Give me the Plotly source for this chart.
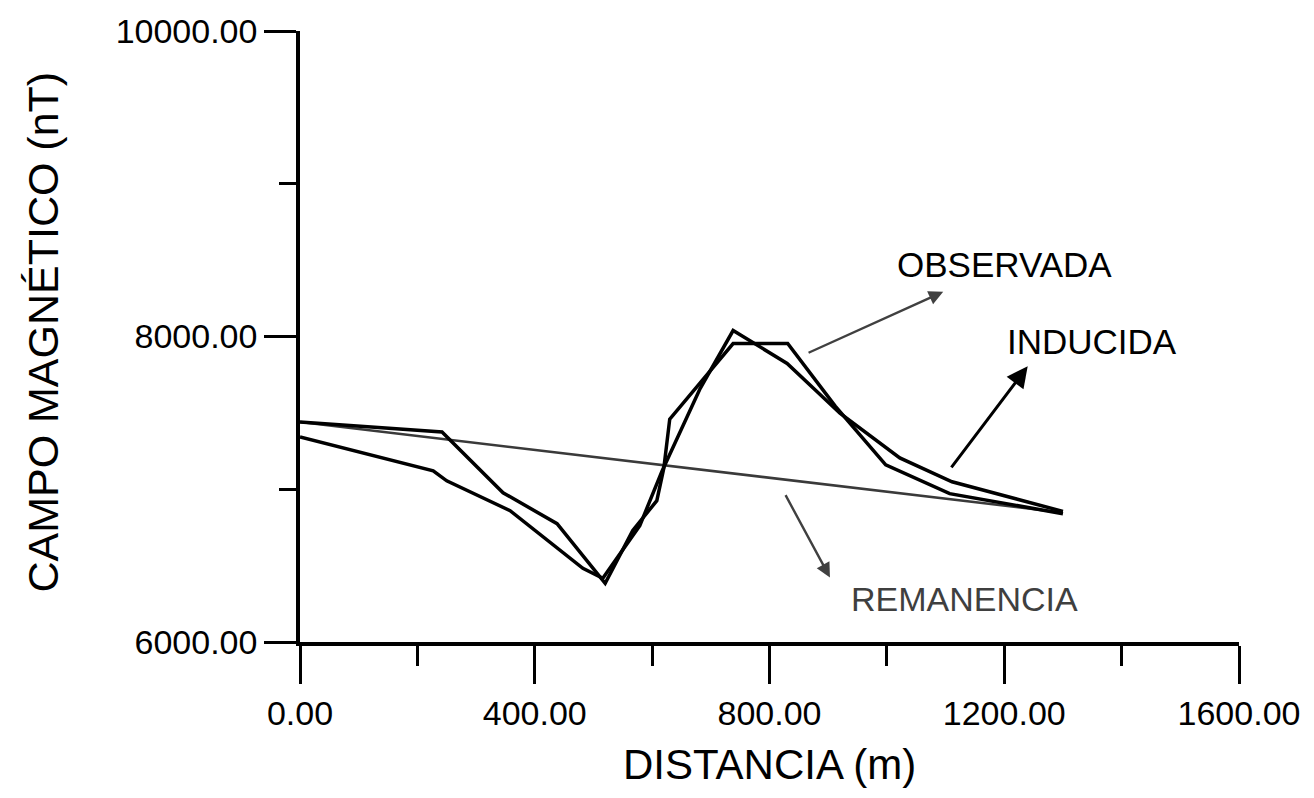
import plotly.graph_objects as go

# Magnetic profile: observed field, induced-model field and remanent trend
obs_dist = [0, 242, 346, 438, 520, 567, 608, 620, 630, 738, 831, 912, 998, 1107, 1300]
obs_field = [7440, 7375, 6977, 6775, 6384, 6730, 6925, 7140, 7459, 7954, 7954, 7544, 7160, 6971, 6840]

ind_dist = [0, 227, 250, 358, 482, 516, 579, 617, 682, 738, 830, 920, 1022, 1111, 1300]
ind_field = [7342, 7121, 7055, 6860, 6482, 6417, 6762, 7120, 7661, 8039, 7824, 7498, 7205, 7049, 6855]

rem_dist = [0, 1300]
rem_field = [7440, 6847]

x_ticks = [0, 400, 800, 1200, 1600]
x_tick_text = ["0.00", "400.00", "800.00", "1200.00", "1600.00"]
y_ticks = [6000, 8000, 10000]
y_tick_text = ["6000.00", "8000.00", "10000.00"]

FONT = "Liberation Sans, Arial, sans-serif"

fig = go.Figure()
fig.add_trace(go.Scatter(x=rem_dist, y=rem_field, mode="lines",
                         line=dict(color="#3a3a3a", width=2.6), name="REMANENCIA"))
fig.add_trace(go.Scatter(x=ind_dist, y=ind_field, mode="lines",
                         line=dict(color="black", width=3.5), name="INDUCIDA"))
fig.add_trace(go.Scatter(x=obs_dist, y=obs_field, mode="lines",
                         line=dict(color="black", width=3.5), name="OBSERVADA"))

# Pointer arrows (head at x/y, tail at ax/ay) and their labels
arrows = [
    dict(x=1096, y=8293, ax=864, ay=7889, color="#404040", head=2, size=1.2, width=2.4),
    dict(x=1240, y=7805, ax=1108, ay=7134, color="black", head=2, size=1.4, width=3),
    dict(x=903, y=6423, ax=826, ay=6971, color="#404040", head=2, size=1.2, width=2.4),
]
annotations = []
for a in arrows:
    annotations.append(dict(x=a["x"], y=a["y"], ax=a["ax"], ay=a["ay"],
                            xref="x", yref="y", axref="x", ayref="y", text="",
                            showarrow=True, arrowhead=a["head"], arrowsize=a["size"],
                            arrowwidth=a["width"], arrowcolor=a["color"],
                            standoff=0, startstandoff=0))

labels = [
    ("OBSERVADA", 1200, 8469, "black", 35),
    ("INDUCIDA", 1350, 7967, "black", 35),
    ("REMANENCIA", 1133, 6280, "#3f3f3f", 34),
]
for txt, lx, ly, col, sz in labels:
    annotations.append(dict(x=lx, y=ly, xref="x", yref="y", text=txt, showarrow=False,
                            xanchor="center", yanchor="middle",
                            font=dict(family=FONT, size=sz, color=col)))

annotations.append(dict(x=0.5, y=-0.2, xref="paper", yref="paper",
                        xanchor="center", yanchor="middle",
                        text="DISTANCIA (m)", showarrow=False,
                        font=dict(family=FONT, size=42, color="black")))
annotations.append(dict(x=-0.2737, y=0.508, xref="paper", yref="paper",
                        xanchor="center", yanchor="middle",
                        text="CAMPO MAGNÉTICO (nT)", showarrow=False, textangle=-90,
                        font=dict(family=FONT, size=43, color="black")))

fig.update_layout(
    width=1314, height=798,
    margin=dict(l=300, r=75, t=28, b=156),
    paper_bgcolor="white", plot_bgcolor="white",
    showlegend=False,
    annotations=annotations,
    font=dict(family=FONT, color="black"),
)
fig.update_xaxes(range=[0, 1600], tickmode="array", tickvals=x_ticks, ticktext=x_tick_text,
                 ticks="outside", ticklen=38, tickwidth=3, tickcolor="black",
                 minor=dict(tickmode="array", tickvals=[200, 600, 1000, 1400],
                            ticks="outside", ticklen=20, tickwidth=3, tickcolor="black"),
                 showline=True, linewidth=3.5, linecolor="black",
                 showgrid=False, zeroline=False,
                 tickfont=dict(family=FONT, size=34, color="black"))
fig.update_yaxes(range=[6000, 10000], tickmode="array", tickvals=y_ticks, ticktext=y_tick_text,
                 ticks="outside", ticklen=32, tickwidth=3, tickcolor="black",
                 minor=dict(tickmode="array", tickvals=[7000, 9000],
                            ticks="outside", ticklen=17, tickwidth=3, tickcolor="black"),
                 showline=True, linewidth=3.5, linecolor="black",
                 showgrid=False, zeroline=False,
                 tickfont=dict(family=FONT, size=34, color="black"))

fig.write_html("out.html")
